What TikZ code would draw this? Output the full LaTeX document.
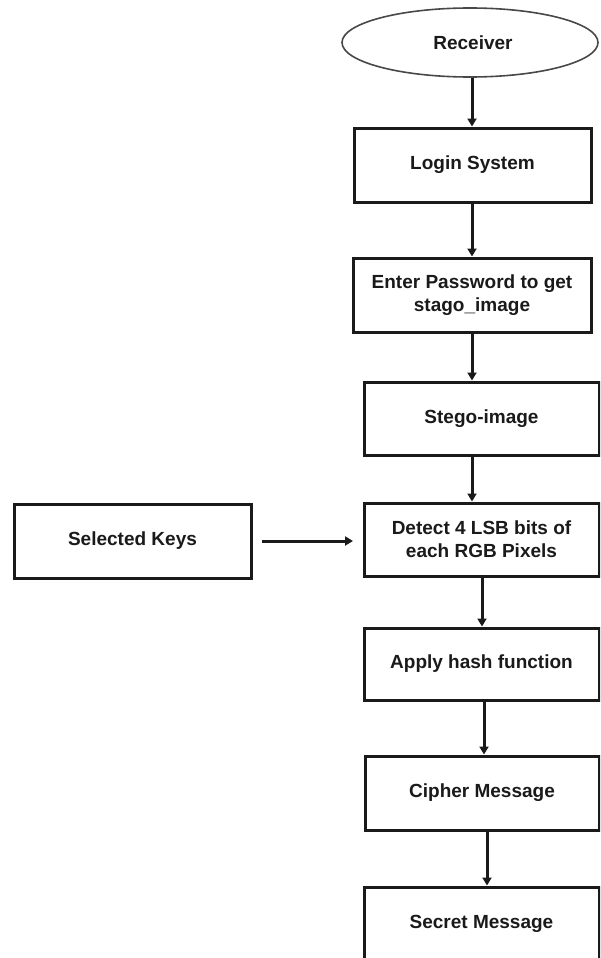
\documentclass[tikz,border=0pt]{standalone}
\usepackage{fontspec}
\setmainfont{Liberation Sans}
\usetikzlibrary{shapes.geometric,arrows.meta}
\definecolor{ink}{HTML}{1A1A1A}
\tikzset{
  every node/.style={font=\fontsize{19}{23}\selectfont\bfseries, text=ink, align=center},
  stepbox/.style={draw=ink, line width=3pt, rectangle, inner sep=0pt},
  startoval/.style={draw=ink!80, line width=1.6pt, ellipse, inner sep=0pt,
    minimum width=256pt, minimum height=69pt},
  arr/.style={draw=ink, line width=3pt, -{Triangle[length=8pt,width=9pt]}}
}
\begin{document}
\begin{tikzpicture}[x=1pt, y=-1pt]
  \useasboundingbox (0,0) rectangle (600,958);
  \clip (0,0) rectangle (600,958);
  \fill[white] (0,0) rectangle (600,958);

  % main column of the flow
  \node[startoval] (rcv) at (470,42.5) {\hspace*{6pt}Receiver};
  \node[stepbox, minimum width=237pt, minimum height=74pt] (login) at (472.5,165) {Login System};
  \node[stepbox, minimum width=238pt, minimum height=74pt] (pass) at (472,295) {Enter Password to get\\stago\_image};
  \node[stepbox, minimum width=235pt, minimum height=73pt] (stego) at (481.5,418.5) {Stego-image};
  \node[stepbox, minimum width=235pt, minimum height=73pt] (detect) at (481.5,539.5) {Detect 4 LSB bits of\\each RGB Pixels};
  \node[stepbox, minimum width=235pt, minimum height=72pt] (hash) at (481.5,664) {Apply hash function};
  \node[stepbox, minimum width=234pt, minimum height=74pt] (cipher) at (482,793) {Cipher Message};
  \node[stepbox, minimum width=235pt, minimum height=74pt] (secret) at (481.5,924) {Secret Message};

  % side input
  \node[stepbox, minimum width=237pt, minimum height=74pt] (keys) at (132.5,541) {Selected Keys};

  % x positions of the vertical connectors
  \coordinate (colA) at (472,0);
  \coordinate (colB) at (482,0);
  \coordinate (colC) at (484,0);
  \coordinate (colD) at (487,0);

  \draw[arr] (rcv.south -| colA) -- (login.north -| colA);
  \draw[arr] (login.south -| colA) -- (pass.north -| colA);
  \draw[arr] (pass.south -| colA) -- (stego.north -| colA);
  \draw[arr] (stego.south -| colA) -- (detect.north -| colA);
  \draw[arr] (detect.south -| colB) -- (hash.north -| colB);
  \draw[arr] (hash.south -| colC) -- (cipher.north -| colC);
  \draw[arr] (cipher.south -| colD) -- (secret.north -| colD);
  \draw[arr] ([xshift=9.5pt]keys.east) -- ([xshift=-9.5pt]keys.east -| detect.west);
\end{tikzpicture}
\end{document}
